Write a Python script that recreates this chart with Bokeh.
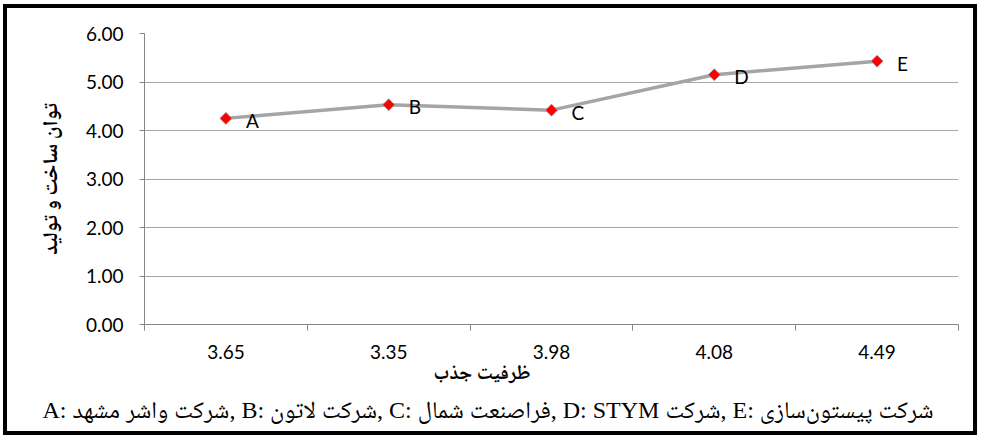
import numpy as np
from bokeh.plotting import figure
from bokeh.models import FixedTicker, PrintfTickFormatter, Range1d, Title
from bokeh.embed import file_html
from bokeh.resources import INLINE
from bokeh.core.properties import value

# ---- data ----
categories = ["3.65", "3.35", "3.98", "4.08", "4.49"]
values = [4.25, 4.53, 4.42, 5.15, 5.43]
point_labels = ["A", "B", "C", "D", "E"]
y_ticks = [0, 1, 2, 3, 4, 5, 6]
x_title = "ظرفیت جذب"
y_title = "توان ساخت و تولید"
caption = "A: شرکت واشر مشهد, B: شرکت لاتون, C: فراصنعت شمال, D: STYM شرکت, E: شرکت پیستون‌سازی"

xs = [i + 0.5 for i in range(len(categories))]

ARABIC_BOLD = "'Noto Naskh Arabic', 'Liberation Serif', serif"
SERIF = "'Liberation Serif', 'Noto Naskh Arabic', serif"

W, H = 974, 431
p = figure(width=W, height=H, output_backend="svg", toolbar_location=None,
           x_range=Range1d(0, len(categories)), y_range=Range1d(0, 6),
           min_border_left=137, min_border_right=23, min_border_top=25,
           min_border_bottom=115)
p.styles = {"border": "4px solid black", "margin": "4px 0px 0px 3px"}
p.outline_line_color = None
p.background_fill_color = "white"
p.border_fill_color = "white"

p.xgrid.visible = False
p.ygrid.grid_line_color = "#a6a6a6"
p.ygrid.grid_line_width = 1

AX = "#868686"
xa = p.xaxis[0]
xa.ticker = FixedTicker(ticks=xs, minor_ticks=list(range(len(categories) + 1)))
xa.major_label_overrides = {x: c for x, c in zip(xs, categories)}
xa.major_tick_line_color = None
xa.major_tick_out = 0
xa.major_tick_in = 0
xa.minor_tick_out = 6
xa.minor_tick_in = 0
xa.minor_tick_line_color = AX
xa.axis_line_color = AX
xa.major_label_text_font = "Lato"
xa.major_label_text_font_size = "19px"
xa.major_label_text_color = "black"
xa.major_label_standoff = 14

ya = p.yaxis[0]
ya.ticker = FixedTicker(ticks=y_ticks)
ya.formatter = PrintfTickFormatter(format="%.2f")
ya.major_tick_out = 5
ya.major_tick_in = 0
ya.minor_tick_line_color = None
ya.major_tick_line_color = AX
ya.axis_line_color = AX
ya.major_label_text_font = "Lato"
ya.major_label_text_font_size = "19px"
ya.major_label_text_color = "black"
ya.major_label_standoff = 16
ya.axis_label = y_title
ya.axis_label_text_font = ARABIC_BOLD
ya.axis_label_text_font_style = "bold"
ya.axis_label_text_font_size = "21px"
ya.axis_label_text_color = "black"
ya.axis_label_standoff = 13

p.line(xs, values, line_color="#a5a5a5", line_width=3.5)
p.scatter(xs, values, marker="square", angle=np.pi / 4, size=8.5,
          fill_color="#ff0000", line_color="#a0a0a0", line_width=0.8)
p.text(xs, values, text=point_labels, x_offset=20, y_offset=2,
       text_baseline="middle", text_align="left",
       text_font=value("Lato"), text_font_size="19px", text_color="black")

p.add_layout(Title(text=x_title, align="left", offset=289, standoff=-8,
                   vertical_align="top",
                   text_font=ARABIC_BOLD, text_font_style="bold",
                   text_font_size="20px", text_color="black"), "below")
p.add_layout(Title(text=caption, align="left", offset=-102, standoff=10,
                   text_font=SERIF, text_font_style="normal",
                   text_font_size="24px", text_color="black"), "below")

open("out.html", "w").write(file_html(p, INLINE))
